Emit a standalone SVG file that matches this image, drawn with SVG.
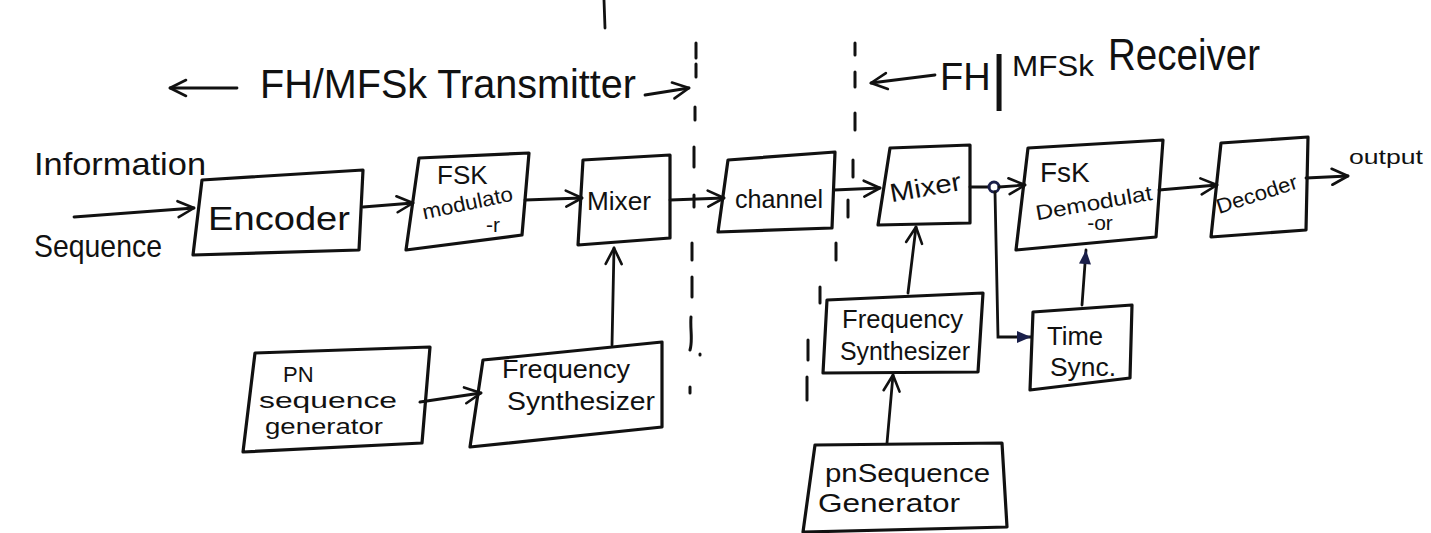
<svg xmlns="http://www.w3.org/2000/svg" width="1431" height="533" viewBox="0 0 1431 533">
  <defs>
    <marker id="open" viewBox="0 0 20 20" refX="18" refY="10" markerWidth="20" markerHeight="20" markerUnits="userSpaceOnUse" orient="auto">
      <path d="M2,2 L18,10 L2,18" fill="none" stroke="#111" stroke-width="2.6" stroke-linecap="round" stroke-linejoin="round"/>
    </marker>
    <marker id="solid" viewBox="0 0 16 16" refX="15" refY="8" markerWidth="16" markerHeight="16" markerUnits="userSpaceOnUse" orient="auto">
      <path d="M1,2 L15,8 L1,14 Z" fill="#1a1f4a"/>
    </marker>
    <style>
      .box { fill: none; stroke: #111; stroke-width: 3.2; stroke-linejoin: round; }
      .wire { fill: none; stroke: #111; stroke-width: 2.8; stroke-linecap: round; }
      .dash { fill: none; stroke: #111; stroke-width: 3; stroke-linecap: round; }
      .t { font-family: "Liberation Sans", "DejaVu Sans", sans-serif; fill: #111; }
      .mid { font-size: 26px; }
      .pn { font-size: 22px; }
      .sm { font-size: 21px; }
    </style>
  </defs>
  <rect width="1431" height="533" fill="#fff"/>

  <!-- section headings -->
  <g id="titles">
    <line class="wire" x1="604" y1="0" x2="605" y2="28"/>
    <line class="wire" x1="237" y1="88" x2="170" y2="88" marker-end="url(#open)"/>
    <text class="t" font-size="40" x="260" y="98" textLength="376" lengthAdjust="spacingAndGlyphs">FH/MFSk Transmitter</text>
    <line class="wire" x1="645" y1="95" x2="689" y2="88" marker-end="url(#open)"/>
    <line class="wire" x1="935" y1="75" x2="871" y2="83" marker-end="url(#open)"/>
    <text class="t"><tspan font-size="38" x="940" y="90">FH</tspan><tspan font-size="62" x="991" y="98">|</tspan><tspan font-size="30" x="1012" y="76" textLength="82" lengthAdjust="spacingAndGlyphs">MFSk</tspan><tspan font-size="44" x="1108" y="70" textLength="152" lengthAdjust="spacingAndGlyphs">Receiver</tspan></text>
  </g>

  <!-- transmitter / receiver boundaries -->
  <g id="dividers">
    <path class="dash" d="M696,43 V58 M696,64 V77 M695,107 V120 M694,147 V167 M694,195 V207 M692,243 V260 M692,277 V297 M691,317 C690,330 693,340 690,350 M700,354 v1 M690,387 V393"/>
    <path class="dash" d="M855,43 V55 M855,72 V87 M855,113 V130 M853,160 V177 M848,200 V217 M836,243 V260 M820,287 V303 M808,340 V360 M807,377 V400"/>
  </g>

  <!-- input / output labels -->
  <g id="input-label">
    <text class="t" font-size="32" x="34" y="175" textLength="172" lengthAdjust="spacingAndGlyphs">Information</text>
    <text class="t" font-size="32" x="34" y="257" textLength="128" lengthAdjust="spacingAndGlyphs">Sequence</text>
  </g>
  <g id="output-label">
    <text class="t sm" x="1349" y="164" textLength="74" lengthAdjust="spacingAndGlyphs">output</text>
  </g>

  <!-- transmitter blocks -->
  <g id="encoder">
    <path class="box" d="M202,180 L363,170 L359,250 L193,255 Z"/>
    <text class="t" font-size="34" x="208" y="230" textLength="142" lengthAdjust="spacingAndGlyphs">Encoder</text>
  </g>
  <g id="fsk-modulator">
    <path class="box" d="M419,158 L529,153 L522,235 L406,250 Z"/>
    <text class="t mid" x="437" y="184">FSK</text>
    <text class="t sm" x="469" y="210" text-anchor="middle" transform="rotate(-12 469 210)" textLength="92" lengthAdjust="spacingAndGlyphs">modulato</text>
    <text class="t sm" x="493" y="232" text-anchor="middle">-r</text>
  </g>
  <g id="tx-mixer">
    <path class="box" d="M583,160 L670,155 L670,238 L578,245 Z"/>
    <text class="t mid" x="587" y="210" textLength="64" lengthAdjust="spacingAndGlyphs">Mixer</text>
  </g>
  <g id="tx-pn-generator">
    <path class="box" d="M255,353 L430,347 L422,443 L243,452 Z"/>
    <text class="t pn" x="283" y="382">PN</text>
    <text class="t pn" x="259" y="408" textLength="138" lengthAdjust="spacingAndGlyphs">sequence</text>
    <text class="t pn" x="265" y="434" textLength="118" lengthAdjust="spacingAndGlyphs">generator</text>
  </g>
  <g id="tx-freq-synth">
    <path class="box" d="M483,360 L662,342 L662,427 L470,447 Z"/>
    <text class="t mid" x="502" y="378" textLength="128" lengthAdjust="spacingAndGlyphs">Frequency</text>
    <text class="t mid" x="507" y="410" textLength="148" lengthAdjust="spacingAndGlyphs">Synthesizer</text>
  </g>

  <!-- channel -->
  <g id="channel">
    <path class="box" d="M728,160 L835,152 L832,228 L718,232 Z"/>
    <text class="t mid" x="735" y="208" textLength="88" lengthAdjust="spacingAndGlyphs">channel</text>
  </g>

  <!-- receiver blocks -->
  <g id="rx-mixer">
    <path class="box" d="M890,148 L970,145 L970,223 L878,225 Z"/>
    <text class="t mid" x="927" y="196" text-anchor="middle" transform="rotate(-10 927 196)" textLength="72" lengthAdjust="spacingAndGlyphs">Mixer</text>
  </g>
  <g id="fsk-demodulator">
    <path class="box" d="M1028,148 L1163,140 L1156,237 L1016,250 Z"/>
    <text class="t" font-size="28" x="1040" y="182">FsK</text>
    <text class="t sm" x="1095" y="210" text-anchor="middle" transform="rotate(-10 1095 210)" textLength="118" lengthAdjust="spacingAndGlyphs">Demodulat</text>
    <text class="t sm" x="1100" y="230" text-anchor="middle">-or</text>
  </g>
  <g id="decoder">
    <path class="box" d="M1221,143 L1308,137 L1306,230 L1211,237 Z"/>
    <text class="t sm" x="1259" y="201" text-anchor="middle" transform="rotate(-18 1259 201)" textLength="84" lengthAdjust="spacingAndGlyphs">Decoder</text>
  </g>
  <g id="rx-freq-synth">
    <path class="box" d="M827,300 L983,293 L978,372 L823,373 Z"/>
    <text class="t mid" x="842" y="328" textLength="121" lengthAdjust="spacingAndGlyphs">Frequency</text>
    <text class="t mid" x="840" y="360" textLength="130" lengthAdjust="spacingAndGlyphs">Synthesizer</text>
  </g>
  <g id="time-sync">
    <path class="box" d="M1033,312 L1132,305 L1130,378 L1030,390 Z"/>
    <text class="t mid" x="1047" y="345" textLength="56" lengthAdjust="spacingAndGlyphs">Time</text>
    <text class="t mid" x="1050" y="376" textLength="66" lengthAdjust="spacingAndGlyphs">Sync.</text>
  </g>
  <g id="rx-pn-generator">
    <path class="box" d="M815,445 L1002,443 L1007,527 L803,532 Z"/>
    <text class="t mid" x="825" y="482" textLength="165" lengthAdjust="spacingAndGlyphs">pnSequence</text>
    <text class="t mid" x="818" y="512" textLength="142" lengthAdjust="spacingAndGlyphs">Generator</text>
  </g>

  <!-- connectors -->
  <g id="connectors">
    <line class="wire" x1="74" y1="217" x2="194" y2="208" marker-end="url(#open)"/>
    <line class="wire" x1="363" y1="207" x2="413" y2="203" marker-end="url(#open)"/>
    <line class="wire" x1="525" y1="200" x2="582" y2="198" marker-end="url(#open)"/>
    <line class="wire" x1="670" y1="200" x2="724" y2="198" marker-end="url(#open)"/>
    <line class="wire" x1="834" y1="190" x2="880" y2="188" marker-end="url(#open)"/>
    <line class="wire" x1="970" y1="187" x2="989" y2="187"/>
    <circle cx="994" cy="187" r="5" fill="none" stroke="#1a1f4a" stroke-width="3"/>
    <line class="wire" x1="999" y1="187" x2="1025" y2="185" marker-end="url(#open)"/>
    <line class="wire" x1="1159" y1="190" x2="1217" y2="185" marker-end="url(#open)"/>
    <line class="wire" x1="1306" y1="178" x2="1348" y2="176" marker-end="url(#open)"/>
    <polyline class="wire" points="995,192 998,337 1031,337" marker-end="url(#solid)"/>
    <line class="wire" x1="1082" y1="305" x2="1086" y2="250" marker-end="url(#solid)"/>
    <line class="wire" x1="908" y1="293" x2="916" y2="227" marker-end="url(#open)"/>
    <line class="wire" x1="887" y1="443" x2="893" y2="375" marker-end="url(#open)"/>
    <line class="wire" x1="420" y1="402" x2="481" y2="393" marker-end="url(#open)"/>
    <line class="wire" x1="612" y1="345" x2="614" y2="248" marker-end="url(#open)"/>
  </g>
</svg>
